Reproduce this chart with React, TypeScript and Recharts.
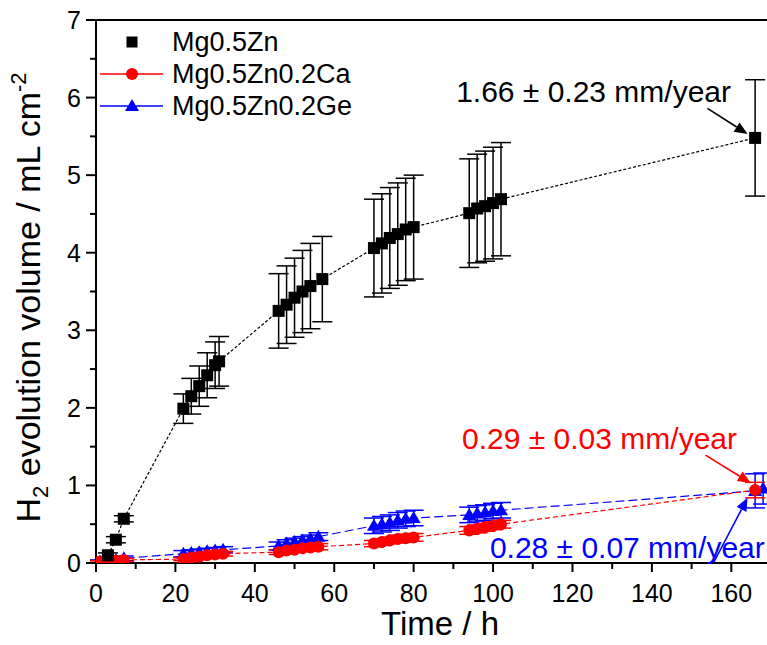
import React from "react";
import {
  ComposedChart,
  Line,
  XAxis,
  YAxis,
  ErrorBar,
  Legend,
  Label,
  ReferenceLine,
  ReferenceDot,
} from "recharts";

// Mg0.5Zn
const timeZn = [3, 5, 7, 22, 24, 26, 28, 30, 31, 46, 48, 50, 52, 54, 57, 70, 72, 74, 76, 78, 80, 94, 96, 98, 100, 102, 166];
const volZn = [0.1, 0.3, 0.57, 1.99, 2.15, 2.28, 2.42, 2.55, 2.6, 3.25, 3.33, 3.42, 3.5, 3.57, 3.66, 4.06, 4.12, 4.19, 4.24, 4.3, 4.33, 4.51, 4.57, 4.6, 4.64, 4.69, 5.48];
const errZn = [0.03, 0.04, 0.04, 0.19, 0.23, 0.26, 0.29, 0.3, 0.32, 0.48, 0.5, 0.51, 0.53, 0.55, 0.55, 0.63, 0.64, 0.65, 0.66, 0.66, 0.67, 0.7, 0.7, 0.71, 0.72, 0.73, 0.75];

// Mg0.5Zn0.2Ca
const timeCa = [1, 3, 5, 7, 22, 24, 26, 28, 30, 32, 46, 48, 50, 52, 54, 56, 70, 72, 74, 76, 78, 80, 94, 96, 98, 100, 102, 166];
const volCa = [0.02, 0.02, 0.03, 0.04, 0.05, 0.07, 0.08, 0.1, 0.11, 0.12, 0.14, 0.16, 0.17, 0.19, 0.2, 0.21, 0.25, 0.27, 0.29, 0.31, 0.32, 0.33, 0.42, 0.44, 0.46, 0.48, 0.5, 0.94];
const errCa = [0.01, 0.01, 0.01, 0.02, 0.02, 0.02, 0.02, 0.03, 0.03, 0.03, 0.03, 0.03, 0.03, 0.04, 0.04, 0.04, 0.04, 0.04, 0.04, 0.05, 0.05, 0.05, 0.05, 0.05, 0.05, 0.05, 0.05, 0.1];

// Mg0.5Zn0.2Ge
const timeGe = [1, 3, 5, 7, 22, 24, 26, 28, 30, 32, 46, 48, 50, 52, 54, 56, 70, 72, 74, 76, 78, 80, 94, 96, 98, 100, 102, 166, 168];
const volGe = [0.02, 0.03, 0.04, 0.06, 0.12, 0.13, 0.14, 0.15, 0.16, 0.17, 0.22, 0.25, 0.27, 0.29, 0.31, 0.34, 0.48, 0.5, 0.52, 0.55, 0.57, 0.58, 0.62, 0.64, 0.65, 0.67, 0.68, 0.93, 0.96];
const errGe = [0.02, 0.02, 0.02, 0.03, 0.04, 0.04, 0.04, 0.04, 0.04, 0.04, 0.05, 0.05, 0.05, 0.05, 0.05, 0.05, 0.1, 0.1, 0.1, 0.1, 0.1, 0.1, 0.1, 0.1, 0.1, 0.1, 0.1, 0.22, 0.2];

const xMajor = [0, 20, 40, 60, 80, 100, 120, 140, 160];
const xMinor = [10, 30, 50, 70, 90, 110, 130, 150, 170];
const yMajor = [0, 1, 2, 3, 4, 5, 6, 7];
const yMinor = [0.5, 1.5, 2.5, 3.5, 4.5, 5.5, 6.5];

const rateLabels = [
  { text: "1.66 \u00b1 0.23 mm/year", t: 90.7, v: 5.94, color: "#000000" },
  { text: "0.29 \u00b1 0.03 mm/year", t: 92.2, v: 1.47, color: "#ff0000" },
  { text: "0.28 \u00b1 0.07 mm/year", t: 99.2, v: 0.07, color: "#0000ff" },
];
const rateArrows = [
  { t1: 154, v1: 5.86, t2: 164.1, v2: 5.53, color: "#000000" },
  { t1: 153.5, v1: 1.39, t2: 164.9, v2: 1.03, color: "#ff0000" },
  { t1: 155.5, v1: 0.0, t2: 164.1, v2: 0.84, color: "#0000ff" },
];

const font = "'Liberation Sans', Arial, sans-serif";

const zip = (t: number[], v: number[], e: number[]) => t.map((x, i) => ({ t: x, v: v[i], e: e[i] }));
const dataZn = zip(timeZn, volZn, errZn);
const dataCa = zip(timeCa, volCa, errCa);
const dataGe = zip(timeGe, volGe, errGe);

const square = (color: string, s = 12) => (p: any) => (
  <rect key={p.key} x={p.cx - s / 2} y={p.cy - s / 2} width={s} height={s} fill={color} />
);
const circle = (color: string, r = 6) => (p: any) => (
  <circle key={p.key} cx={p.cx} cy={p.cy} r={r} fill={color} />
);
const triangle = (color: string, s = 7) => (p: any) => (
  <polygon
    key={p.key}
    points={`${p.cx},${p.cy - s} ${p.cx - s},${p.cy + s * 0.72} ${p.cx + s},${p.cy + s * 0.72}`}
    fill={color}
  />
);

const XTick = (p: any) => {
  const { x, y, payload } = p;
  const major = xMajor.includes(payload.value);
  return (
    <g>
      <line x1={x} x2={x} y1={y} y2={y + (major ? 9 : 6)} stroke="#000" strokeWidth={2} />
      {major && (
        <text x={x} y={y + 39} textAnchor="middle" fontSize={25} fontFamily={font} fill="#000">
          {payload.value}
        </text>
      )}
    </g>
  );
};

const YTick = (p: any) => {
  const { x, y, payload } = p;
  const major = yMajor.includes(payload.value);
  return (
    <g>
      <line x1={x - (major ? 10 : 6)} x2={x} y1={y} y2={y} stroke="#000" strokeWidth={2} />
      {major && (
        <text x={x - 15} y={y + 9} textAnchor="end" fontSize={25} fontFamily={font} fill="#000">
          {payload.value}
        </text>
      )}
    </g>
  );
};

const YTitle = (p: any) => {
  const vb = p.viewBox || { x: 0, y: 20, height: 543 };
  const cx = 40;
  const cy = vb.y + vb.height / 2 + 6;
  return (
    <text
      x={cx}
      y={cy}
      transform={`rotate(-90, ${cx}, ${cy})`}
      textAnchor="middle"
      fontSize={34}
      fontFamily={font}
      fill="#000"
    >
      H
      <tspan fontSize={22} dy={8}>2</tspan>
      <tspan dy={-8}> evolution volume / mL cm</tspan>
      <tspan fontSize={22} dy={-14}>-2</tspan>
    </text>
  );
};

const XTitle = (p: any) => {
  const vb = p.viewBox || { x: 96, y: 563, width: 675 };
  return (
    <text x={440} y={vb.y + 72} textAnchor="middle" fontSize={33} fontFamily={font} fill="#000">
      Time / h
    </text>
  );
};

const legendIcons: Record<string, { color: string; line: boolean; mark: (cx: number, cy: number) => React.ReactNode }> = {
  "Mg0.5Zn": { color: "#000", line: false, mark: (cx, cy) => <rect x={cx - 5.5} y={cy - 5.5} width={11} height={11} fill="#000" /> },
  "Mg0.5Zn0.2Ca": { color: "#ff0000", line: true, mark: (cx, cy) => <circle cx={cx} cy={cy} r={6} fill="#ff0000" /> },
  "Mg0.5Zn0.2Ge": {
    color: "#0000ff",
    line: true,
    mark: (cx, cy) => <polygon points={`${cx},${cy - 7} ${cx - 7},${cy + 5} ${cx + 7},${cy + 5}`} fill="#0000ff" />,
  },
};
const legendOrder = ["Mg0.5Zn", "Mg0.5Zn0.2Ca", "Mg0.5Zn0.2Ge"];

const LegendBox = () => (
  <div style={{ fontFamily: font, fontSize: 27, color: "#000" }}>
    {legendOrder.map((name) => {
      const ic = legendIcons[name];
      return (
        <div key={name} style={{ display: "flex", alignItems: "center", height: 32 }}>
          <svg width={72} height={20} style={{ display: "block" }}>
            {ic.line && <line x1={0} x2={63} y1={10} y2={10} stroke={ic.color} strokeWidth={1.5} />}
            {ic.mark(32, 10)}
          </svg>
          <span style={{ lineHeight: "32px", whiteSpace: "nowrap" }}>{name}</span>
        </div>
      );
    })}
  </div>
);

const arrowShape = (color: string) => (p: any) => {
  const { x1, y1, x2, y2 } = p;
  const ang = Math.atan2(y2 - y1, x2 - x1);
  const len = 13;
  const hw = 5.5;
  const bx = x2 - len * Math.cos(ang);
  const by = y2 - len * Math.sin(ang);
  const nx = -Math.sin(ang) * hw;
  const ny = Math.cos(ang) * hw;
  return (
    <g>
      <line x1={x1} y1={y1} x2={bx} y2={by} stroke={color} strokeWidth={1.6} />
      <polygon points={`${x2},${y2} ${bx + nx},${by + ny} ${bx - nx},${by - ny}`} fill={color} />
    </g>
  );
};

const textShape = (text: string, color: string) => (p: any) => (
  <text x={p.cx} y={p.cy} fontSize={30} fontFamily={font} fill={color}>
    {text}
  </text>
);

export default function App() {
  return (
    <div style={{ position: "fixed", top: 0, left: 0, width: 767, height: 645, overflow: "hidden", background: "#fff" }}>
      <ComposedChart width={771} height={645} margin={{ top: 20, right: 0, bottom: 0, left: 0 }}>
        <XAxis
          type="number"
          dataKey="t"
          domain={[0, 170]}
          ticks={[...xMajor, ...xMinor].sort((a, b) => a - b)}
          interval={0}
          height={82}
          tickSize={0}
          tickMargin={0}
          tick={XTick}
          axisLine={{ stroke: "#000", strokeWidth: 2 }}
          allowDataOverflow
        >
          <Label content={XTitle} />
        </XAxis>
        <YAxis
          type="number"
          domain={[0, 7]}
          ticks={[...yMajor, ...yMinor].sort((a, b) => a - b)}
          interval={0}
          width={96}
          tickSize={0}
          tickMargin={0}
          tick={YTick}
          axisLine={{ stroke: "#000", strokeWidth: 2 }}
          allowDataOverflow
        >
          <Label content={YTitle} />
        </YAxis>
        <ReferenceLine y={7} stroke="#000" strokeWidth={2} />
        <Legend
          layout="vertical"
          align="center"
          verticalAlign="middle"
          wrapperStyle={{ left: 100, top: 26, width: 300, height: 100 }}
          content={LegendBox}
        />
        <Line
          name="Mg0.5Zn0.2Ge"
          data={dataGe}
          dataKey="v"
          stroke="#0000ff"
          strokeWidth={1.2}
          strokeDasharray="9 4"
          dot={triangle("#0000ff")}
          activeDot={false}
          isAnimationActive={false}
        >
          <ErrorBar dataKey="e" direction="y" width={10} stroke="#0000ff" strokeWidth={1.5} />
        </Line>
        <Line
          name="Mg0.5Zn0.2Ca"
          data={dataCa}
          dataKey="v"
          stroke="#ff0000"
          strokeWidth={1.2}
          strokeDasharray="5 3"
          dot={circle("#ff0000")}
          activeDot={false}
          isAnimationActive={false}
        >
          <ErrorBar dataKey="e" direction="y" width={10} stroke="#ff0000" strokeWidth={1.5} />
        </Line>
        <Line
          name="Mg0.5Zn"
          data={dataZn}
          dataKey="v"
          stroke="#000000"
          strokeWidth={1.2}
          strokeDasharray="3 2"
          dot={square("#000000")}
          activeDot={false}
          isAnimationActive={false}
        >
          <ErrorBar dataKey="e" direction="y" width={10} stroke="#000000" strokeWidth={1.5} />
        </Line>
        {rateArrows.map((a, i) => (
          <ReferenceLine
            key={"arrow" + i}
            segment={[
              { x: a.t1, y: a.v1 },
              { x: a.t2, y: a.v2 },
            ]}
            ifOverflow="visible"
            shape={arrowShape(a.color)}
          />
        ))}
        {rateLabels.map((l, i) => (
          <ReferenceDot
            key={"lbl" + i}
            x={l.t}
            y={l.v}
            r={0}
            ifOverflow="visible"
            shape={textShape(l.text, l.color)}
          />
        ))}
      </ComposedChart>
    </div>
  );
}
